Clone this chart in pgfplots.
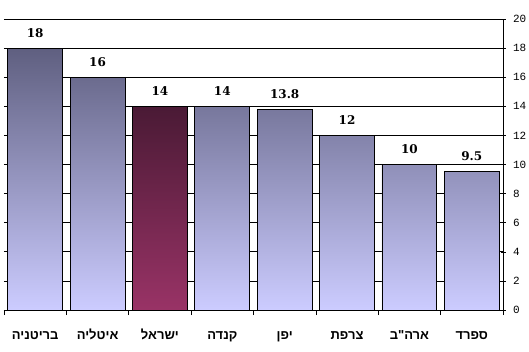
\documentclass[border=0pt]{standalone}
\usepackage{fontspec}
\usepackage{pgfplots}
\pgfplotsset{compat=1.18}
\TeXXeTstate=1
\newfontfamily\hebfont[Script=Hebrew]{Liberation Sans}
\newfontfamily\valfont{DejaVu Serif}
\newfontfamily\tickfont{Liberation Mono}
\definecolor{bartop}{HTML}{5F5F80}
\definecolor{barbot}{HTML}{CCCCFF}
\definecolor{istop}{HTML}{4A1A35}
\definecolor{isbot}{HTML}{993366}
\newcommand{\heb}[1]{\beginR #1\endR}
\begin{document}
\begin{tikzpicture}[x=1pt,y=1pt]
\useasboundingbox (-4,-41) rectangle (525,310);
\begin{axis}[
  at={(0,0)}, anchor=south west,
  scale only axis, width=499pt, height=291pt,
  xmin=-0.5, xmax=7.5, ymin=0, ymax=20,
  axis x line*=bottom, axis y line*=right,
  axis line style={black, line width=0.8pt},
  ytick={0,2,...,20},
  ymajorgrids, grid style={black, line width=0.8pt},
  tick align=center, major tick length=5pt, minor tick length=5pt,
  every major y tick/.style={black, line width=0.6pt},
  every major x tick/.style={draw=none},
  every minor x tick/.style={black, line width=0.6pt, yshift=-2.5pt},
  xtick={0,...,7},
  minor xtick={-0.5,0.5,...,7.5},
  xticklabels={\heb{בריטניה},\heb{איטליה},\heb{ישראל},\heb{קנדה},\heb{יפן},\heb{צרפת},\heb{ארה"ב},\heb{ספרד}},
  xticklabel style={font=\hebfont\bfseries\fontsize{13}{15}\selectfont, anchor=base, yshift=-27pt},
  yticklabel style={font=\tickfont\fontsize{11}{12}\selectfont, xshift=4pt},
  /pgf/number format/assume math mode=true,
  nodes near coords,
  nodes near coords style={font=\valfont\bfseries\fontsize{12}{14}\selectfont, anchor=south, yshift=7pt, black},
]
\addplot[ybar, bar width=0.88, bar shift=0pt, draw=black, line width=0.8pt,
  top color=bartop, bottom color=barbot]
  coordinates {(0,18) (1,16) (3,14) (4,13.8) (5,12) (6,10) (7,9.5)};
\addplot[ybar, bar width=0.88, bar shift=0pt, draw=black, line width=0.8pt,
  top color=istop, bottom color=isbot]
  coordinates {(2,14)};
\end{axis}
\end{tikzpicture}
\end{document}
